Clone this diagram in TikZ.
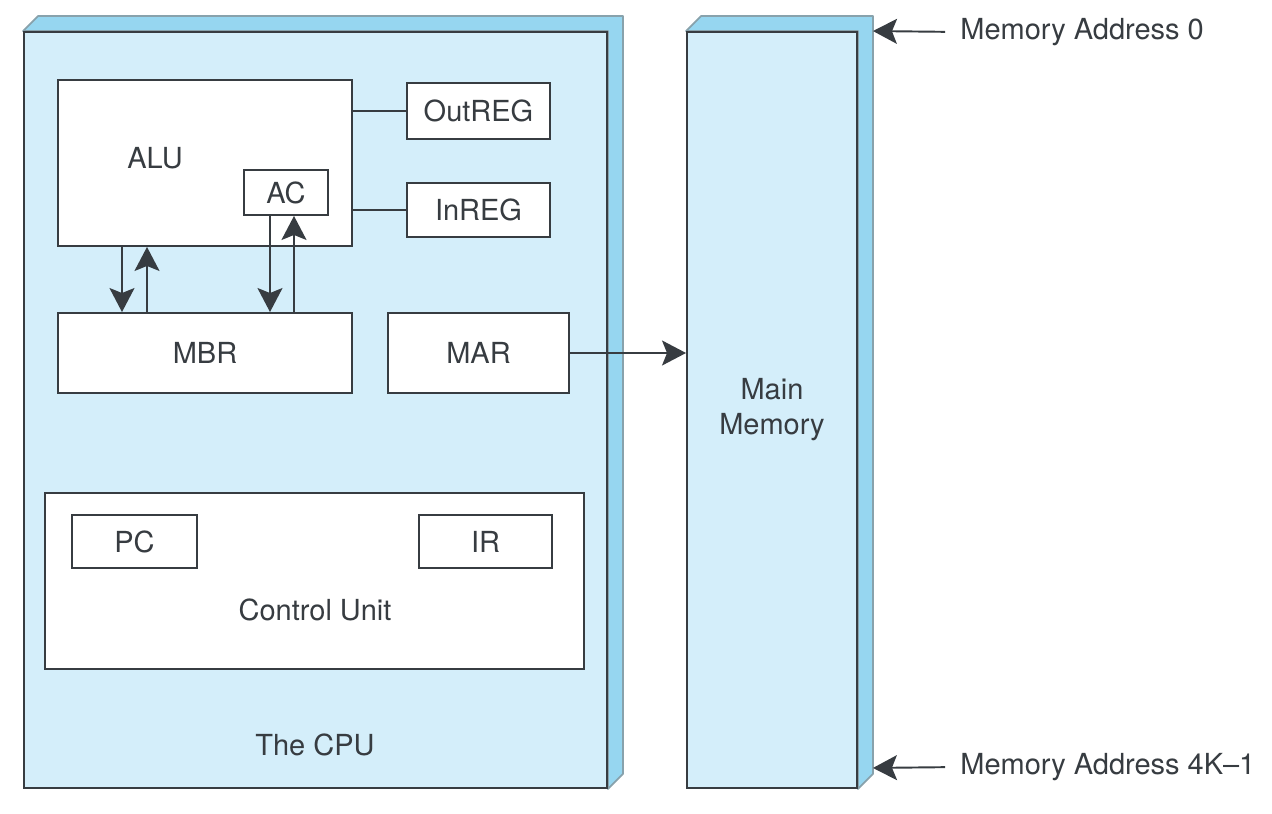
\documentclass[tikz,border=0pt]{standalone}
\usepackage{fontspec}
\setmainfont{TeX Gyre Heros}
\usetikzlibrary{positioning,fit,calc,backgrounds,arrows.meta}
\definecolor{cpublue}{RGB}{212,238,250}
\definecolor{edgeblue}{RGB}{150,214,240}
\definecolor{linegray}{RGB}{55,60,65}
\tikzset{
  txt/.style={font=\fontsize{16.5}{20}\selectfont, text=linegray},
  reg/.style={draw=linegray, fill=white, line width=1.1pt, inner sep=0pt, label={[txt]center:#1}},
  reg/.default={},
}
\begin{document}
\begin{tikzpicture}[x=0.02cm, y=-0.02cm,
    arr/.style={line width=1.1pt, draw=linegray, -{Stealth[length=4.8mm,width=5mm,inset=1mm]}},
    wire/.style={line width=1.1pt, draw=linegray},
    face/.style={fill=edgeblue, draw=gray!60!edgeblue, line width=1pt, line join=round},
    front/.style={draw=linegray, fill=cpublue, line width=1.1pt, inner sep=0pt},
  ]
  \useasboundingbox (0,0) rectangle (1272,814);
  % the two boxes with depth
  \node[front, fit={(24,32) (607,788)}] (cpu) {};
  \node[front, fit={(687,32) (857,788)}, label={[txt, align=center]center:Main\\Memory}] (mem) {};
  \begin{scope}[on background layer]
    \foreach \b in {cpu,mem}
      \path[face] (\b.north west) -- ++(15,-15) -- ([shift={(15,-15)}]\b.north east)
        -- ([shift={(15,-15)}]\b.south east) -- (\b.south east) -- (\b.north east) -- cycle;
  \end{scope}
  % registers and units
  \node[reg, fit={(58,80) (352,246)}] (alu) {};
  \node[txt] (alulabel) at (155,158) {ALU};
  \node[reg=AC, fit={(244,170) (328,215)}] (ac) {};
  \node[reg=OutREG, fit={(407,83) (550,139)}] (outreg) {};
  \node[reg=InREG, fit={(407,183) (550,237)}] (inreg) {};
  \node[reg=MBR, fit={(58,313) (352,393)}] (mbr) {};
  \node[reg=MAR, fit={(388,313) (569,393)}] (mar) {};
  \node[reg, fit={(45,493) (584,669)}] (cu) {};
  \node[txt] (culabel) at (315,610) {Control Unit};
  \node[reg=PC, fit={(72,515) (197,568)}] (pc) {};
  \node[reg=IR, fit={(419,515) (552,568)}] (ir) {};
  \node[txt] (cpulabel) at (315,745) {The CPU};
  % buses
  \coordinate (dn1) at (122,0);
  \coordinate (up1) at (147,0);
  \coordinate (dn2) at (270,0);
  \coordinate (up2) at (294,0);
  \draw[wire] (alu.east |- outreg.west) -- (outreg.west);
  \draw[wire] (alu.east |- inreg.west) -- (inreg.west);
  \draw[arr] (alu.south -| dn1) -- (mbr.north -| dn1);
  \draw[arr] (mbr.north -| up1) -- (alu.south -| up1);
  \draw[arr] (ac.south -| dn2) -- (mbr.north -| dn2);
  \draw[arr] (mbr.north -| up2) -- (ac.south -| up2);
  \draw[arr] (mar.east) -- (mem.west |- mar.east);
  % addresses
  \coordinate (memtop) at ($(mem.north east)+(15,0)$);
  \coordinate (membot) at ($(mem.south east)+(15,-21)$);
  \node[txt, inner sep=0pt, anchor=west] (addr0) at (960,32) {Memory Address 0};
  \node[txt, inner sep=0pt, anchor=west] (addrn) at (960,767) {Memory Address 4K–1};
  \draw[arr, shorten <=0.3cm] (addr0.west) -- (memtop);
  \draw[arr, shorten <=0.3cm] (addrn.west) -- (membot);
\end{tikzpicture}
\end{document}
